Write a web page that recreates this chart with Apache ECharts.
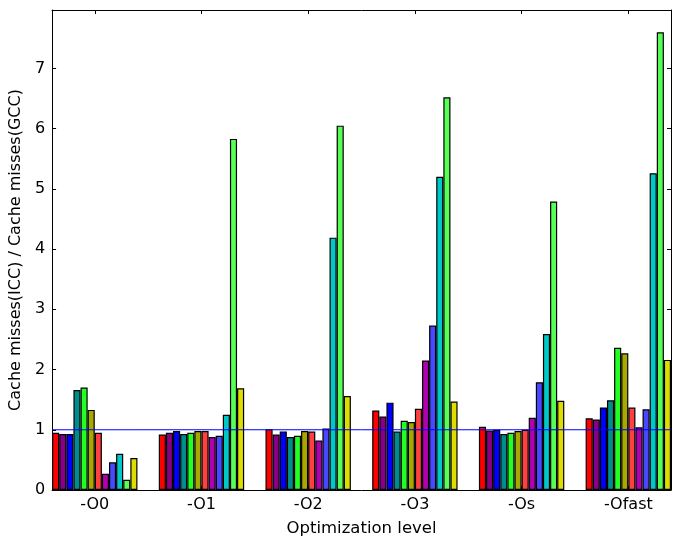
<!DOCTYPE html>
<html>
<head>
<meta charset="utf-8">
<script src="https://cdn.jsdelivr.net/npm/echarts@6/dist/echarts.min.js"></script>
<style>html,body{margin:0;padding:0;background:#fff}#c{width:681px;height:548px}</style>
</head>
<body>
<div id="c"></div>
<script>
const categories = ['-O0', '-O1', '-O2', '-O3', '-Os', '-Ofast'];
const yTicks = [0, 1, 2, 3, 4, 5, 6, 7];
const yMax = 7.97;
const baseline = 1;

// 12 benchmark series, one value per optimization level
const s01 = [0.95, 0.92, 1.01, 1.32, 1.05, 1.19];
const s02 = [0.93, 0.95, 0.92, 1.22, 0.99, 1.17];
const s03 = [0.93, 0.98, 0.97, 1.45, 1.00, 1.37];
const s04 = [1.66, 0.93, 0.88, 0.97, 0.93, 1.49];
const s05 = [1.70, 0.95, 0.90, 1.15, 0.95, 2.36];
const s06 = [1.33, 0.98, 0.98, 1.13, 0.98, 2.27];
const s07 = [0.95, 0.98, 0.97, 1.35, 1.00, 1.37];
const s08 = [0.27, 0.88, 0.82, 2.15, 1.20, 1.04];
const s09 = [0.46, 0.90, 1.02, 2.73, 1.79, 1.34];
const s10 = [0.60, 1.25, 4.19, 5.20, 2.59, 5.26];
const s11 = [0.17, 5.83, 6.05, 6.52, 4.79, 7.60];
const s12 = [0.53, 1.69, 1.56, 1.47, 1.48, 2.16];

const seriesValues = [s01, s02, s03, s04, s05, s06, s07, s08, s09, s10, s11, s12];
const colors = ['#ff0000', '#880088', '#0000ff', '#008c8c', '#22ff22', '#a8a800',
                '#ff4040', '#b000b0', '#4848ff', '#00c8c8', '#55ff55', '#dddd00'];

const nS = seriesValues.length;
const slots = 15; // bar slots per unit of group spacing
const half = nS / slots / 2;
const xMin = -half, xMax = categories.length - 1 + half;
const catIdx = categories.map((c, i) => i);

const font = 'DejaVu Sans';
const chart = echarts.init(document.getElementById('c'), null, {renderer: 'canvas'});

const series = seriesValues.map((vals, s) => ({
  type: 'bar',
  xAxisIndex: 0, yAxisIndex: 0,
  barWidth: 620 / (xMax - xMin) / slots,
  barGap: '-100%',
  itemStyle: {color: colors[s], borderColor: '#000', borderWidth: 1.2},
  emphasis: {disabled: true},
  animation: false,
  data: vals.map((v, g) => [g - half + (s + 0.5) / slots, v])
}));
series.push({
  type: 'line', xAxisIndex: 0, yAxisIndex: 0,
  data: [[xMin, baseline], [xMax, baseline]],
  symbol: 'none', z: 10, animation: false, silent: true,
  lineStyle: {color: '#0000ff', width: 1}
});

const axisLine = {show: true, onZero: false, lineStyle: {color: '#000', width: 1}};
chart.setOption({
  backgroundColor: '#fff',
  animation: false,
  grid: {left: 51, right: 10, top: 10, bottom: 58},
  xAxis: [
    {
      type: 'value', position: 'bottom', min: xMin, max: xMax,
      axisLine: axisLine, splitLine: {show: false},
      axisTick: {show: true, inside: true, length: 4, customValues: catIdx, lineStyle: {color: '#000'}},
      axisLabel: {customValues: catIdx, formatter: v => categories[Math.round(v)], color: '#000', fontSize: 16, fontFamily: font, margin: 7},
      name: 'Optimization level', nameLocation: 'middle', nameGap: 30,
      nameTextStyle: {color: '#000', fontSize: 16.5, fontFamily: font}
    },
    {
      type: 'value', position: 'top', min: xMin, max: xMax,
      axisLine: axisLine, splitLine: {show: false},
      axisTick: {show: true, inside: true, length: 4, customValues: catIdx, lineStyle: {color: '#000'}},
      axisLabel: {show: false}
    }
  ],
  yAxis: [
    {
      type: 'value', position: 'left', min: 0, max: yMax,
      axisLine: axisLine, splitLine: {show: false},
      axisTick: {show: true, inside: true, length: 4, customValues: yTicks, lineStyle: {color: '#000'}},
      axisLabel: {customValues: yTicks, color: '#000', fontSize: 16, fontFamily: font, margin: 7},
      name: 'Cache misses(ICC) / Cache misses(GCC)', nameLocation: 'middle', nameGap: 22,
      nameTextStyle: {color: '#000', fontSize: 16, fontFamily: font}
    },
    {
      type: 'value', position: 'right', min: 0, max: yMax,
      axisLine: axisLine, splitLine: {show: false},
      axisTick: {show: true, inside: true, length: 4, customValues: yTicks, lineStyle: {color: '#000'}},
      axisLabel: {show: false}
    }
  ],
  series: series
});
</script>
</body>
</html>
